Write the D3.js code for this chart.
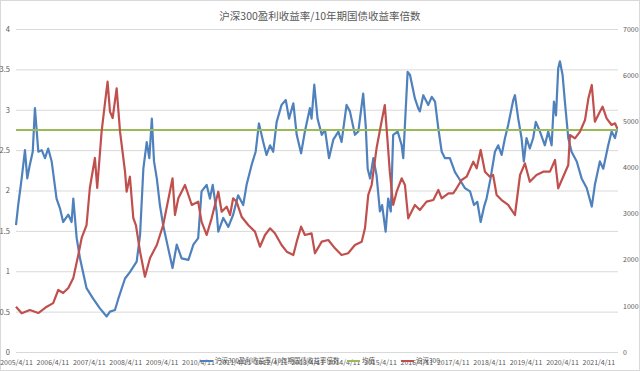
<!DOCTYPE html>
<html>
<head>
<meta charset="utf-8">
<script src="https://cdn.jsdelivr.net/npm/d3@7"></script>
<style>
  body { margin: 0; background: #fff; }
</style>
</head>
<body>
<div id="chart"></div>
<script>
// chart text
var title = "沪深300盈利收益率/10年期国债收益率倍数";
var legendNames = ["沪深300盈利收益率/10年期国债收益率倍数", "均值", "沪深300"];
var colors = ["#4f81bd", "#9bbb59", "#c0504d"];

// tick values
var leftTicks = [0, 0.5, 1, 1.5, 2, 2.5, 3, 3.5, 4];
var rightTicks = [0, 1000, 2000, 3000, 4000, 5000, 6000, 7000];
var xTickDates = ["2005-04-11", "2006-04-11", "2007-04-11", "2008-04-11", "2009-04-11", "2010-04-11",
  "2011-04-11", "2012-04-11", "2013-04-11", "2014-04-11", "2015-04-11", "2016-04-11",
  "2017-04-11", "2018-04-11", "2019-04-11", "2020-04-11", "2021-04-11"];
var dateRange = ["2005-04-11", "2021-10-20"];

// earnings yield / 10y bond yield ratio (left axis)
var ratioDates = [
  "2005-04-11", "2005-05-03", "2005-06-07", "2005-07-10", "2005-08-02", "2005-08-28", "2005-09-26", "2005-10-18", "2005-11-21", "2005-12-25",
  "2006-01-27", "2006-02-28", "2006-04-04", "2006-05-23", "2006-06-26", "2006-07-28", "2006-09-18", "2006-10-21", "2006-11-07", "2006-12-11",
  "2007-01-13", "2007-03-20", "2007-05-25", "2007-08-01", "2007-10-08", "2007-11-10", "2007-12-30",
  "2008-02-02", "2008-04-09", "2008-05-28", "2008-08-04", "2008-09-07", "2008-10-10", "2008-11-13", "2008-12-09",
  "2009-01-03", "2009-01-25", "2009-02-22", "2009-03-25", "2009-04-27", "2009-06-17", "2009-07-30", "2009-09-10", "2009-10-29",
  "2010-01-05", "2010-02-24", "2010-04-13", "2010-05-17", "2010-07-07", "2010-08-09", "2010-09-06", "2010-10-15", "2010-11-01", "2010-12-21",
  "2011-02-10", "2011-03-30", "2011-05-19", "2011-07-09", "2011-08-12", "2011-10-02", "2011-11-11", "2011-12-14",
  "2012-01-26", "2012-02-28", "2012-04-03", "2012-05-05", "2012-06-09", "2012-07-28", "2012-09-08", "2012-10-11", "2012-11-23", "2012-12-27",
  "2013-02-09", "2013-03-19", "2013-05-08", "2013-05-25", "2013-06-21", "2013-07-24", "2013-09-04", "2013-10-07", "2013-11-16", "2013-12-29",
  "2014-02-18", "2014-03-22", "2014-05-11", "2014-06-14", "2014-08-03", "2014-09-06", "2014-10-25", "2014-11-19", "2014-12-09",
  "2015-01-02", "2015-02-04", "2015-03-08", "2015-04-11", "2015-05-03", "2015-06-07", "2015-07-03", "2015-07-29", "2015-08-22", "2015-10-06", "2015-11-15", "2015-12-01",
  "2016-01-14", "2016-02-07", "2016-03-27", "2016-04-29", "2016-05-16", "2016-06-19", "2016-08-08", "2016-09-12", "2016-10-15", "2016-11-17", "2016-12-21",
  "2017-01-23", "2017-03-13", "2017-05-02", "2017-06-22", "2017-08-11", "2017-10-01", "2017-11-10", "2017-12-13",
  "2018-01-16", "2018-02-19", "2018-03-16", "2018-04-25", "2018-06-08", "2018-07-11", "2018-08-14", "2018-09-17", "2018-10-19", "2018-12-09", "2018-12-26",
  "2019-01-28", "2019-03-02", "2019-03-25", "2019-04-21", "2019-05-24", "2019-06-27", "2019-07-23", "2019-09-03", "2019-10-22", "2019-11-25", "2019-12-29",
  "2020-01-21", "2020-02-11", "2020-03-04", "2020-03-21", "2020-04-17", "2020-05-10", "2020-06-13", "2020-07-16", "2020-09-06", "2020-10-25", "2020-12-15",
  "2021-02-04", "2021-03-07", "2021-04-26", "2021-05-30", "2021-07-19", "2021-08-22", "2021-09-25", "2021-10-17"
];
var ratioValues = [
  1.57, 1.82, 2.15, 2.50, 2.15, 2.32, 2.48, 3.02, 2.48, 2.50,
  2.40, 2.52, 2.36, 1.90, 1.78, 1.61, 1.70, 1.61, 1.90, 1.41,
  1.16, 0.79, 0.66, 0.54, 0.44, 0.50, 0.52,
  0.66, 0.91, 0.99, 1.12, 1.45, 2.27, 2.60, 2.40,
  2.89, 2.36, 2.15, 1.82, 1.57, 1.28, 1.04, 1.33, 1.16,
  1.14, 1.33, 1.41, 1.99, 2.07, 1.90, 2.07, 1.74, 1.49, 1.66,
  1.55, 1.70, 1.94, 1.82, 2.07, 2.32, 2.48, 2.83,
  2.60, 2.44, 2.56, 2.48, 2.85, 3.06, 3.12, 2.89, 3.08, 2.69,
  2.46, 2.73, 3.02, 2.89, 3.31, 2.89, 2.69, 2.75, 2.40, 2.63,
  2.73, 2.60, 3.06, 2.98, 2.69, 2.73, 3.20, 2.81, 2.27,
  2.15, 2.40, 2.19, 1.74, 1.82, 1.49, 1.90, 1.74, 2.69, 2.73, 2.56, 2.40,
  3.47, 3.43, 3.14, 3.02, 2.98, 3.18, 3.06, 3.16, 3.10, 2.77, 2.48,
  2.40, 2.40, 2.23, 2.13, 2.03, 1.99, 1.82, 1.86,
  1.61, 1.80, 1.90, 2.15, 2.48, 2.56, 2.44, 2.65, 2.81, 3.12, 3.18,
  2.89, 2.65, 2.36, 2.65, 2.52, 2.65, 2.85, 2.73, 2.56, 2.73, 2.56,
  3.10, 2.93, 3.51, 3.60, 3.43, 3.10, 2.65, 2.48, 2.36, 2.15, 2.03,
  1.80, 2.07, 2.36, 2.27, 2.56, 2.73, 2.65, 2.77
];
var meanValue = 2.75;

// CSI 300 index (right axis)
var indexDates = [
  "2005-04-11", "2005-06-07", "2005-08-28", "2005-11-21",
  "2006-02-14", "2006-04-19", "2006-06-09", "2006-07-28", "2006-09-18", "2006-11-07", "2006-12-27",
  "2007-01-30", "2007-03-20", "2007-04-22", "2007-06-12", "2007-07-05", "2007-08-18", "2007-09-21", "2007-10-17", "2007-11-10", "2007-12-07",
  "2008-01-16", "2008-02-19", "2008-04-09", "2008-04-25", "2008-05-28", "2008-07-01", "2008-07-27", "2008-09-07", "2008-10-26", "2008-12-16",
  "2009-02-22", "2009-04-27", "2009-07-30", "2009-08-23", "2009-09-26", "2009-12-02",
  "2010-02-08", "2010-04-13", "2010-05-17", "2010-07-07", "2010-08-26", "2010-11-01", "2010-12-05",
  "2011-01-24", "2011-02-27", "2011-03-30", "2011-05-03", "2011-06-23", "2011-08-28", "2011-11-04", "2011-12-24",
  "2012-02-13", "2012-04-03", "2012-05-22", "2012-07-28", "2012-09-18", "2012-11-23", "2012-12-27",
  "2013-02-09", "2013-03-19", "2013-05-25", "2013-06-28", "2013-09-04", "2013-11-09",
  "2014-01-15", "2014-03-22", "2014-05-27", "2014-08-03", "2014-10-10", "2014-11-12", "2014-12-15",
  "2015-01-18", "2015-03-08", "2015-04-27", "2015-05-30", "2015-06-27", "2015-07-19", "2015-08-22", "2015-09-26", "2015-11-15", "2015-12-18",
  "2016-01-20", "2016-03-27", "2016-05-16", "2016-07-22", "2016-09-28", "2016-11-17", "2016-12-21",
  "2017-02-26", "2017-04-15", "2017-05-19", "2017-07-09", "2017-08-28", "2017-11-03", "2017-12-07",
  "2018-01-16", "2018-02-28", "2018-04-18", "2018-05-21", "2018-06-25", "2018-08-14", "2018-10-19", "2018-12-26",
  "2019-02-15", "2019-04-05", "2019-05-24", "2019-07-30", "2019-10-06", "2019-12-12",
  "2020-02-01", "2020-03-04", "2020-04-23", "2020-06-13", "2020-06-30", "2020-08-19", "2020-10-09", "2020-11-28",
  "2021-01-01", "2021-02-04", "2021-03-07", "2021-04-26", "2021-05-23", "2021-07-03", "2021-08-22", "2021-09-25", "2021-10-17"
];
var indexValues = [
  982, 838, 910, 845,
  982, 1060, 1344, 1279, 1387, 1604, 2102,
  2471, 2752, 3554, 4205, 3554, 4775, 5397, 5858, 5208, 5071,
  5715, 4775, 3908, 3474, 3799, 2904, 2752, 2174, 1632, 2037,
  2319, 2752, 3765, 2969, 3331, 3619,
  3186, 3258, 2824, 2536, 2897, 3474, 3040,
  3150, 2969, 3331, 3258, 2932, 2752, 2608, 2282,
  2536, 2680, 2572, 2319, 2174, 2102, 2391,
  2716, 2536, 2572, 2139, 2391, 2427,
  2247, 2102, 2139, 2319, 2391, 2680, 3403,
  3619, 4414, 4991, 5353, 4558, 3908, 3186, 3474, 3765, 3619,
  2897, 3186, 3078, 3258, 3294, 3511, 3331,
  3439, 3439, 3548, 3728, 3799, 4124, 3981,
  4378, 3908, 3799, 3836, 3403, 3294, 3186, 2969,
  3836, 4088, 3691, 3836, 3908, 3908,
  4161, 3548, 3799, 4053, 4703, 4631, 4775, 5028,
  5498, 5787, 4991, 5208, 5316, 5064, 4920, 4956, 4848
];

var W = 640, H = 371;
var plot = {left: 16, right: 618, top: 29, bottom: 352};
var fontFamily = "'Noto Sans CJK SC', 'Noto Sans', sans-serif";
var parseDate = d3.timeParse("%Y-%m-%d");

var svg = d3.select("#chart")
  .append("svg")
    .attr("width", W)
    .attr("height", H)
    .style("font-family", fontFamily);

// chart area border
svg.append("rect")
    .attr("x", 0.5).attr("y", 0.5)
    .attr("width", W - 1).attr("height", H - 1)
    .attr("fill", "#fff")
    .attr("stroke", "#d9d9d9");

// scales
var x = d3.scaleTime()
    .domain(dateRange.map(parseDate))
    .range([plot.left, 617.5]);
var yLeft = d3.scaleLinear().domain([0, 4]).range([plot.bottom, plot.top]);
var yRight = d3.scaleLinear().domain([0, 7000]).range([plot.bottom, plot.top]);

// left axis + gridlines
var gLeft = svg.append("g")
    .attr("transform", "translate(" + plot.left + ",0)")
    .call(d3.axisLeft(yLeft).tickValues(leftTicks).tickFormat(function(d) { return String(d); })
      .tickSize(-(plot.right - plot.left)).tickPadding(6));
gLeft.select(".domain").remove();
gLeft.selectAll("line").attr("stroke", "#d9d9d9");
gLeft.selectAll("text").attr("fill", "#595959").attr("font-size", 7.5).attr("font-family", fontFamily);

// right axis
var gRight = svg.append("g")
    .attr("transform", "translate(" + plot.right + ",0)")
    .call(d3.axisRight(yRight).tickValues(rightTicks).tickFormat(function(d) { return String(d); })
      .tickSize(0).tickPadding(5));
gRight.select(".domain").remove();
gRight.selectAll("text").attr("fill", "#595959").attr("font-size", 7).attr("font-family", fontFamily);

// x axis
var gX = svg.append("g")
    .attr("transform", "translate(0," + plot.bottom + ")")
    .call(d3.axisBottom(x).tickValues(xTickDates.map(parseDate))
      .tickFormat(d3.timeFormat("%Y/%-m/%-d")).tickSize(0).tickPadding(8));
gX.select(".domain").remove();
gX.selectAll("text").attr("fill", "#595959").attr("font-size", 7).attr("font-family", fontFamily);

// series
var ratioData = ratioDates.map(function(d, i) { return {date: parseDate(d), value: ratioValues[i]}; });
var indexData = indexDates.map(function(d, i) { return {date: parseDate(d), value: indexValues[i]}; });

svg.append("path")
    .datum(ratioData)
    .attr("fill", "none")
    .attr("stroke", colors[0])
    .attr("stroke-width", 2.2)
    .attr("stroke-linejoin", "round")
    .attr("d", d3.line().x(function(d) { return x(d.date); }).y(function(d) { return yLeft(d.value); }));

svg.append("path")
    .datum(dateRange.map(function(d) { return {date: parseDate(d), value: meanValue}; }))
    .attr("fill", "none")
    .attr("stroke", colors[1])
    .attr("stroke-width", 2)
    .attr("d", d3.line().x(function(d) { return x(d.date); }).y(function(d) { return yLeft(d.value); }));

svg.append("path")
    .datum(indexData)
    .attr("fill", "none")
    .attr("stroke", colors[2])
    .attr("stroke-width", 2.2)
    .attr("stroke-linejoin", "round")
    .attr("d", d3.line().x(function(d) { return x(d.date); }).y(function(d) { return yRight(d.value); }));

// title
svg.append("text")
    .attr("x", W / 2)
    .attr("y", 20)
    .attr("text-anchor", "middle")
    .attr("font-size", 10.5)
    .attr("fill", "#595959")
    .text(title);

// legend (sits on top of the date labels, like the original)
var legendX = [200, 347, 401];
var legend = svg.append("g")
  .selectAll("g")
  .data(legendNames)
  .enter().append("g")
    .attr("transform", function(d, i) { return "translate(" + legendX[i] + ",361)"; });
legend.append("line")
    .attr("x1", 0).attr("x2", 13)
    .attr("stroke", function(d, i) { return colors[i]; })
    .attr("stroke-width", 2);
legend.append("text")
    .attr("x", 15)
    .attr("dy", "0.35em")
    .attr("font-size", 6.5)
    .attr("fill", "#595959")
    .text(function(d) { return d; });
</script>
</body>
</html>
